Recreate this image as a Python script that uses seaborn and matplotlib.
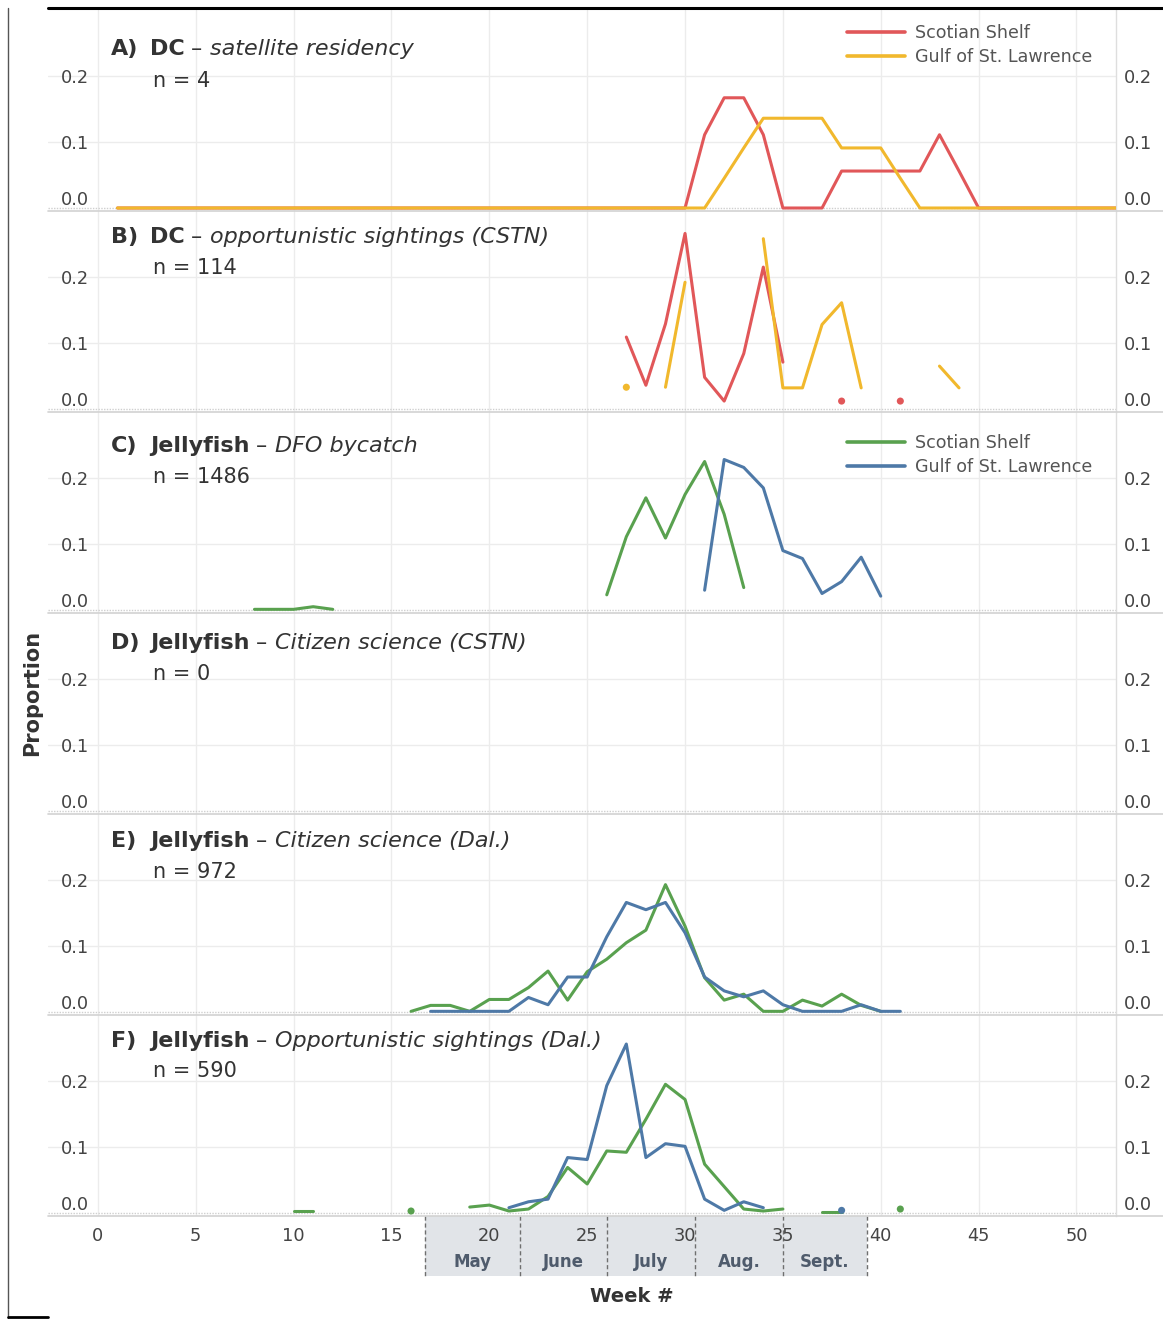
import numpy as np
import pandas as pd
import matplotlib
matplotlib.use("Agg")
import matplotlib.pyplot as plt
import seaborn as sns
from matplotlib.lines import Line2D
from matplotlib.patches import Rectangle
from matplotlib.transforms import ScaledTranslation, blended_transform_factory

# ---------------- data ----------------
panel_letters = ["A)", "B)", "C)", "D)", "E)", "F)"]
panel_subjects = ["DC", "DC", "Jellyfish", "Jellyfish", "Jellyfish", "Jellyfish"]
panel_sources = ["satellite residency", "opportunistic sightings (CSTN)",
                 "DFO bycatch", "Citizen science (CSTN)",
                 "Citizen science (Dal.)", "Opportunistic sightings (Dal.)"]
panel_n = [4, 114, 1486, 0, 972, 590]
region_names = ["Scotian Shelf", "Gulf of St. Lawrence"]

# each series: list of (first week, consecutive weekly proportions)
a_scotian = [(1, [0, 0, 0, 0, 0, 0, 0, 0, 0, 0,
                  0, 0, 0, 0, 0, 0, 0, 0, 0, 0,
                  0, 0, 0, 0, 0, 0, 0, 0, 0, 0,
                  0.111, 0.167, 0.167, 0.111, 0, 0, 0, 0.056, 0.056, 0.056,
                  0.056, 0.056, 0.111, 0.056, 0, 0, 0, 0, 0, 0,
                  0, 0])]
a_gulf = [(1, [0, 0, 0, 0, 0, 0, 0, 0, 0, 0,
               0, 0, 0, 0, 0, 0, 0, 0, 0, 0,
               0, 0, 0, 0, 0, 0, 0, 0, 0, 0,
               0, 0.045, 0.091, 0.136, 0.136, 0.136, 0.136, 0.091, 0.091, 0.091,
               0.045, 0, 0, 0, 0, 0, 0, 0, 0, 0,
               0, 0])]
b_scotian = [(27, [0.109, 0.036, 0.129, 0.266, 0.048, 0.012, 0.084, 0.215, 0.071]),
             (38, [0.012]), (41, [0.012])]
b_gulf = [(27, [0.033]), (29, [0.033, 0.192]),
          (34, [0.258, 0.032, 0.032, 0.128, 0.161, 0.032]), (43, [0.065, 0.032])]
c_scotian = [(8, [0.001, 0.001, 0.001, 0.005, 0.001]),
             (26, [0.023, 0.111, 0.170, 0.109, 0.175, 0.225, 0.145, 0.034])]
c_gulf = [(31, [0.030, 0.228, 0.216, 0.185, 0.090, 0.078, 0.025, 0.043, 0.080, 0.021])]
d_scotian = []
d_gulf = []
e_scotian = [(16, [0.001, 0.010, 0.010, 0.001, 0.019, 0.019, 0.037, 0.062, 0.018, 0.061,
                   0.080, 0.105, 0.124, 0.193, 0.130, 0.052, 0.018, 0.027, 0.001, 0.001,
                   0.018, 0.009, 0.027, 0.010, 0.001])]
e_gulf = [(17, [0.001, 0.001, 0.001, 0.001, 0.001, 0.022, 0.011, 0.053, 0.053, 0.114,
                0.166, 0.155, 0.166, 0.120, 0.053, 0.032, 0.023, 0.032, 0.011, 0.001,
                0.001, 0.001, 0.011, 0.001, 0.001])]
f_scotian = [(10, [0.003, 0.003]), (16, [0.003]),
             (19, [0.009, 0.012, 0.003, 0.006, 0.025, 0.069, 0.044, 0.094, 0.092, 0.142,
                   0.195, 0.172, 0.074, 0.040, 0.006, 0.003, 0.006]),
             (37, [0.002, 0.002]), (41, [0.006])]
f_gulf = [(21, [0.008, 0.017, 0.021, 0.084, 0.081, 0.193, 0.256, 0.084, 0.105, 0.101,
                0.021, 0.004, 0.017, 0.008]), (38, [0.004])]

panel_series = [(a_scotian, a_gulf), (b_scotian, b_gulf), (c_scotian, c_gulf),
                (d_scotian, d_gulf), (e_scotian, e_gulf), (f_scotian, f_gulf)]

month_names = ["May", "June", "July", "Aug.", "Sept."]
month_edges = [16.7, 21.55, 26.0, 30.5, 35.0, 39.3]
week_ticks = [0, 5, 10, 15, 20, 25, 30, 35, 40, 45, 50]
prop_ticks = [0.0, 0.1, 0.2]
prop_labels = ["0.0", "0.1", "0.2"]

# ---------------- style ----------------
sns.set_style("white")
plt.rcParams["font.family"] = ["DejaVu Sans"]

DC_COLORS = ["#E15759", "#F1B82D"]
JF_COLORS = ["#59A14F", "#4E79A7"]
panel_colors = [DC_COLORS, DC_COLORS, JF_COLORS, JF_COLORS, JF_COLORS, JF_COLORS]
legend_panels = {0: 24, 2: 434}  # panel index -> top pixel of legend

W, H = 1163, 1319
fig = plt.figure(figsize=(W / 100, H / 100), dpi=100)

L_PX, R_PX = 48, 1116
TOP0, PH = 10, 201
PX_PER_UNIT = 660.0
YMIN = -3 / PX_PER_UNIT
YMAX = YMIN + PH / PX_PER_UNIT
XMIN, XMAX = -2.55, 52.02

title_base = [55, 243, 452, 649, 847, 1047]
n_base = [87, 274, 483, 680, 878, 1077]

TXT = "#333333"
TICK = "#444444"
GRID = "#ececec"


def runs_to_df(runs):
    rows = []
    for k, (start, vals) in enumerate(runs):
        for i, v in enumerate(vals):
            rows.append({"week": start + i, "prop": v, "seg": k, "len": len(vals)})
    return pd.DataFrame(rows, columns=["week", "prop", "seg", "len"])


def draw_series(ax, runs, color):
    df = runs_to_df(runs)
    if df.empty:
        return
    lines = df[df["len"] > 1]
    dots = df[df["len"] == 1]
    if len(lines):
        sns.lineplot(data=lines, x="week", y="prop", units="seg", estimator=None,
                     color=color, lw=2.2, ax=ax, legend=False, zorder=3)
    if len(dots):
        sns.scatterplot(data=dots, x="week", y="prop", color=color, s=26,
                        edgecolor="none", ax=ax, legend=False, zorder=3)


axes = []
for i in range(6):
    top = TOP0 + PH * i
    ax = fig.add_axes([L_PX / W, 1 - (top + PH) / H, (R_PX - L_PX) / W, PH / H])
    axes.append(ax)
    ax.set_xlim(XMIN, XMAX)
    ax.set_ylim(YMIN, YMAX)
    # gridlines
    for wk in week_ticks:
        ax.axvline(wk, color=GRID, lw=1, zorder=0)
    for p in prop_ticks[1:]:
        ax.axhline(p, color=GRID, lw=1, zorder=0)
    ax.axhline(0, color="#cfcfcf", lw=1, ls=(0, (1, 1)), zorder=0.5)

    for runs, col in zip(panel_series[i], panel_colors[i]):
        draw_series(ax, runs, col)

    ax.set_xlabel("")
    ax.set_ylabel("")
    ax.grid(False)
    for s in ["left", "top", "bottom"]:
        ax.spines[s].set_visible(False)
    ax.spines["right"].set_color("#dedede")
    ax.spines["right"].set_linewidth(1)

    ax.set_xticks(week_ticks)
    ax.set_yticks(prop_ticks, prop_labels)
    ax.tick_params(axis="y", length=0, pad=-29.5, labelsize=12.8, labelcolor=TICK)
    if i < 5:
        ax.tick_params(axis="x", length=0, labelbottom=False)
    else:
        ax.tick_params(axis="x", length=0, pad=8, labelsize=12.8, labelcolor=TICK)

    ax2 = ax.twinx()
    ax2.set_ylim(YMIN, YMAX)
    ax2.set_yticks(prop_ticks, prop_labels)
    ax2.tick_params(axis="y", length=0, pad=6, labelsize=12.8, labelcolor=TICK)
    for s in ax2.spines.values():
        s.set_visible(False)

    off = ScaledTranslation(0, 7.5 / 72, fig.dpi_scale_trans)
    t0 = ax.yaxis.get_major_ticks()[0].label1
    t0.set_transform(t0.get_transform() + off)
    t1 = ax2.yaxis.get_major_ticks()[0].label2
    t1.set_transform(t1.get_transform() + off)

    # separator below panel
    yb = 1 - (top + PH) / H
    fig.add_artist(Line2D([L_PX / W, 1.0], [yb, yb], color="#d2d2d2", lw=1.2))

    if i in legend_panels:
        handles = [Line2D([], [], color=c, lw=2.6) for c in panel_colors[i]]
        leg = ax.legend(handles, region_names, loc="upper left",
                        bbox_to_anchor=(847 / W, 1 - legend_panels[i] / H),
                        bbox_transform=fig.transFigure, frameon=False,
                        fontsize=12.6, handlelength=3.3, handletextpad=0.6,
                        labelspacing=0.33, borderpad=0, borderaxespad=0)
        for t in leg.get_texts():
            t.set_color("#555555")

# ---------------- titles ----------------
renderer = fig.canvas.get_renderer()


def put(x_px, y_px, s, **kw):
    t = fig.text(x_px / W, 1 - y_px / H, s, ha="left", va="baseline", color=TXT, **kw)
    return t.get_window_extent(renderer).x1


for i in range(6):
    yb = title_base[i]
    put(111, yb, panel_letters[i], fontsize=16, fontweight="bold")
    x = put(150, yb, panel_subjects[i], fontsize=16, fontweight="bold")
    x = put(x + 6, yb, "\u2013", fontsize=16)
    put(x + 8, yb, panel_sources[i], fontsize=16, fontstyle="italic")
    put(153, n_base[i], f"n = {panel_n[i]}", fontsize=15)

# ---------------- month band ----------------
axf = axes[-1]
trans = blended_transform_factory(axf.transData, axf.transAxes)
band_h = 60 / PH
axf.add_patch(Rectangle((month_edges[0], -band_h), month_edges[-1] - month_edges[0], band_h,
                        transform=trans, clip_on=False, facecolor="#e1e4e8",
                        edgecolor="none", zorder=0.2))
for e in month_edges:
    axf.plot([e, e], [0, -band_h], transform=trans, clip_on=False, color="#6f6f6f",
             lw=1, ls=(0, (3, 2)), zorder=0.3)
for k, name in enumerate(month_names):
    mid = (month_edges[k] + month_edges[k + 1]) / 2
    axf.text(mid, -46 / PH, name, transform=trans, ha="center", va="center",
             fontsize=12, fontweight="bold", color="#4f5b6c")

fig.text(632 / W, 1 - 1297 / H, "Week #", ha="center", va="center",
         fontsize=14, fontweight="bold", color=TXT)
fig.text(32 / W, 1 - 693 / H, "Proportion", ha="center", va="center",
         rotation=90, fontsize=15, fontweight="bold", color=TXT)

# ---------------- frame lines ----------------
fig.add_artist(Line2D([L_PX / W, 1.0], [1 - 8 / H, 1 - 8 / H], color="black", lw=2.2))
fig.add_artist(Line2D([8 / W, 8 / W], [1 - 8 / H, 0], color="#555555", lw=1.0))
fig.add_artist(Line2D([8 / W, L_PX / W], [1 - 1317 / H, 1 - 1317 / H], color="black", lw=2.0))

fig.savefig("out.png", dpi=100)
